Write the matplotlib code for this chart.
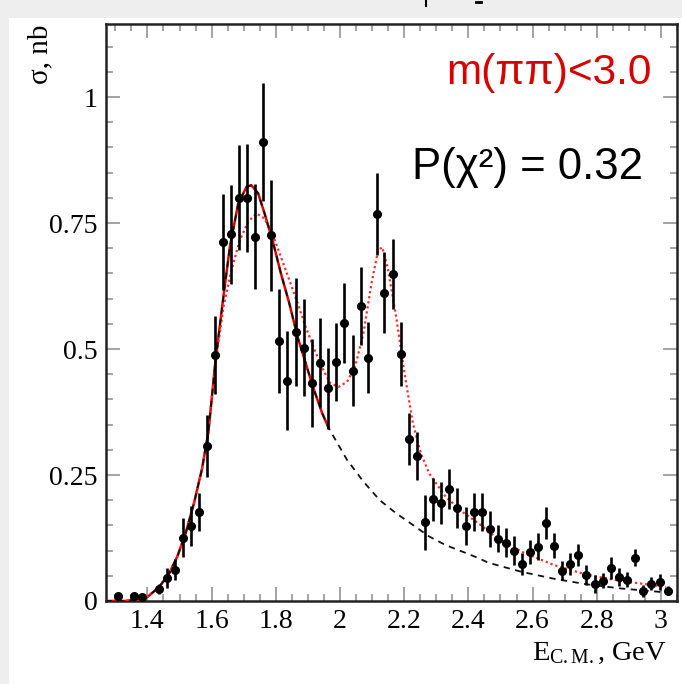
import matplotlib
matplotlib.use('Agg')
import matplotlib.pyplot as plt
import matplotlib.patches as mpatches
import matplotlib.lines as mlines

# ---------------- data ----------------
energy = [1.309, 1.358, 1.382, 1.435, 1.460, 1.485, 1.510, 1.535, 1.560, 1.585,
          1.610, 1.635, 1.660, 1.685, 1.710, 1.735, 1.761, 1.786, 1.811, 1.836,
          1.862, 1.888, 1.913, 1.937, 1.963, 1.988, 2.014, 2.039, 2.064, 2.088,
          2.114, 2.138, 2.164, 2.190, 2.214, 2.239, 2.266, 2.289, 2.314, 2.341,
          2.366, 2.392, 2.416, 2.442, 2.468, 2.491, 2.517, 2.542, 2.567, 2.592,
          2.618, 2.642, 2.667, 2.691, 2.717, 2.743, 2.767, 2.793, 2.818, 2.843,
          2.869, 2.893, 2.919, 2.945, 2.970, 2.996, 3.022]
sigma = [0.010, 0.010, 0.007, 0.023, 0.045, 0.062, 0.126, 0.149, 0.177, 0.308,
         0.488, 0.712, 0.728, 0.800, 0.800, 0.723, 0.911, 0.726, 0.516, 0.437,
         0.534, 0.503, 0.433, 0.473, 0.422, 0.474, 0.552, 0.457, 0.585, 0.483,
         0.768, 0.612, 0.649, 0.490, 0.321, 0.288, 0.156, 0.202, 0.194, 0.222,
         0.184, 0.149, 0.177, 0.177, 0.143, 0.124, 0.116, 0.100, 0.073, 0.098,
         0.108, 0.155, 0.110, 0.060, 0.073, 0.091, 0.052, 0.034, 0.040, 0.066,
         0.047, 0.042, 0.086, 0.020, 0.034, 0.037, 0.020]
sigma_err = [0.006, 0.006, 0.006, 0.010, 0.020, 0.021, 0.038, 0.040, 0.038, 0.061,
             0.077, 0.095, 0.098, 0.104, 0.107, 0.104, 0.117, 0.110, 0.104, 0.098,
             0.107, 0.096, 0.087, 0.088, 0.081, 0.078, 0.080, 0.071, 0.077, 0.070,
             0.081, 0.081, 0.070, 0.063, 0.052, 0.048, 0.055, 0.043, 0.042, 0.040,
             0.040, 0.038, 0.038, 0.038, 0.036, 0.026, 0.028, 0.029, 0.022, 0.024,
             0.026, 0.031, 0.025, 0.019, 0.022, 0.022, 0.020, 0.018, 0.015, 0.022,
             0.018, 0.015, 0.017, 0.012, 0.013, 0.016, 0.009]

# single-resonance fit (red solid part, also start of the black dashed curve)
fit1_energy = [1.271, 1.33, 1.37, 1.40, 1.437, 1.468, 1.493, 1.519, 1.545, 1.570,
               1.590, 1.611, 1.637, 1.657, 1.683, 1.709, 1.724, 1.745, 1.765, 1.791,
               1.816, 1.842, 1.868, 1.893, 1.919, 1.945, 1.965]
fit1_sigma = [0.0, 0.0, 0.003, 0.008, 0.028, 0.055, 0.088, 0.134, 0.194, 0.262,
              0.335, 0.470, 0.605, 0.703, 0.789, 0.822, 0.825, 0.809, 0.769, 0.713,
              0.650, 0.591, 0.524, 0.472, 0.419, 0.372, 0.343]
# continuation of the black dashed curve
tail_energy = [2.022, 2.073, 2.124, 2.175, 2.227, 2.278, 2.329, 2.381, 2.432, 2.462,
               2.565, 2.668, 2.770, 2.873, 3.016]
tail_sigma = [0.280, 0.237, 0.200, 0.174, 0.151, 0.128, 0.111, 0.098, 0.085, 0.076,
              0.058, 0.044, 0.033, 0.025, 0.017]

# total fit (red dotted)
total_energy = [1.271, 1.33, 1.37, 1.40, 1.437, 1.468, 1.493, 1.519, 1.545, 1.570,
                1.590, 1.611, 1.637, 1.662, 1.688, 1.714, 1.740, 1.765, 1.791, 1.816,
                1.842, 1.868, 1.893, 1.919, 1.945, 1.970, 1.996, 2.022, 2.047, 2.073,
                2.098, 2.119, 2.132, 2.150, 2.175, 2.201, 2.227, 2.252, 2.278, 2.329,
                2.381, 2.432, 2.483, 2.565, 2.668, 2.770, 2.873, 3.016]
total_sigma = [0.0, 0.0, 0.003, 0.008, 0.028, 0.055, 0.088, 0.134, 0.194, 0.262,
               0.335, 0.465, 0.584, 0.657, 0.716, 0.753, 0.769, 0.759, 0.726, 0.683,
               0.637, 0.591, 0.544, 0.501, 0.462, 0.432, 0.425, 0.435, 0.465, 0.531,
               0.630, 0.696, 0.702, 0.657, 0.564, 0.452, 0.353, 0.293, 0.253, 0.207,
               0.177, 0.154, 0.128, 0.098, 0.071, 0.052, 0.040, 0.028]

x_ticks = [1.4, 1.6, 1.8, 2.0, 2.2, 2.4, 2.6, 2.8, 3.0]
x_tick_labels = ['1.4', '1.6', '1.8', '2', '2.2', '2.4', '2.6', '2.8', '3']
y_ticks = [0.0, 0.25, 0.5, 0.75, 1.0]
y_tick_labels = ['0', '0.25', '0.5', '0.75', '1']

# ---------------- figure ----------------
plt.rcParams['mathtext.fontset'] = 'custom'
plt.rcParams['mathtext.rm'] = 'Liberation Serif'
plt.rcParams['mathtext.it'] = 'Liberation Serif:italic'

W, H = 682, 684
fig = plt.figure(figsize=(W / 100, H / 100), dpi=100)
fig.patch.set_facecolor('#eeeeee')
fig.patches.append(mpatches.Rectangle((9 / W, 0), 1 - 9 / W, (H - 18) / H,
                                      transform=fig.transFigure, facecolor='white',
                                      edgecolor='none', zorder=-10))
# small slide artefacts at the very top
fig.lines.append(mlines.Line2D([426 / W, 426 / W], [1.0, 1 - 6 / H], transform=fig.transFigure,
                               color='black', lw=1.5, zorder=-5))
fig.lines.append(mlines.Line2D([476 / W, 481 / W], [1 - 1.5 / H, 1 - 1.5 / H],
                               transform=fig.transFigure, color='black', lw=2, zorder=-5))

ax = fig.add_axes([106 / W, (H - 601) / H, (677 - 106) / W, (601 - 24) / H])
ax.set_zorder(1)
ax.set_facecolor('white')

ax.plot(fit1_energy, fit1_sigma, color='#e00000', lw=1.8, zorder=3)
ax.plot(fit1_energy + tail_energy, fit1_sigma + tail_sigma, color='#111111',
        ls=(0, (3.5, 3)), lw=1.3, zorder=4)
ax.plot(total_energy, total_sigma, color='#ff2a2a', ls=(0, (1, 1.3)), lw=1.6, zorder=3)
ax.errorbar(energy, sigma, yerr=sigma_err, fmt='o', color='black', ms=5.5,
            elinewidth=1.9, capsize=0, zorder=5)

ax.set_xlim(1.271, 3.028)
ax.set_ylim(0, 1.145)
ax.set_xticks(x_ticks)
ax.set_xticklabels(x_tick_labels)
ax.set_yticks(y_ticks)
ax.set_yticklabels(y_tick_labels)
ax.set_xticks([1.3 + 0.05 * i for i in range(36)], minor=True)
ax.set_yticks([0.05 * i for i in range(23)], minor=True)
ax.tick_params(which='both', direction='in', top=True, right=True, color='#8a8a8a', width=1.1)
ax.tick_params(which='major', length=10)
ax.tick_params(which='minor', length=5)
ax.tick_params(axis='x', pad=6)
ax.tick_params(axis='y', pad=6)
for lab in ax.get_xticklabels() + ax.get_yticklabels():
    lab.set_fontfamily('Liberation Serif')
    lab.set_fontsize(20)
for sp in ax.spines.values():
    sp.set_linewidth(1.8)
    sp.set_color('#222222')

ax.set_ylabel('σ, nb', loc='top', fontsize=21, fontfamily='Liberation Serif')
ax.yaxis.set_label_coords((53 - 106) / 571, 1.0)

fig.text(667 / W, (H - 660) / H, r'E$_{\rm C.M.}$, GeV', ha='right', va='baseline',
         fontsize=20.5, fontfamily='Liberation Serif')

fig.text(652 / W, (H - 84) / H, 'm(ππ)<3.0', ha='right', va='baseline',
         fontsize=30.5, fontfamily='Liberation Sans', color='#d80000', zorder=5)
fig.text(643 / W, (H - 179) / H, 'P(χ²) = 0.32', ha='right', va='baseline',
         fontsize=31.5, fontfamily='Liberation Sans', color='black', zorder=5)

fig.savefig('out.png', dpi=100, facecolor=fig.get_facecolor())
